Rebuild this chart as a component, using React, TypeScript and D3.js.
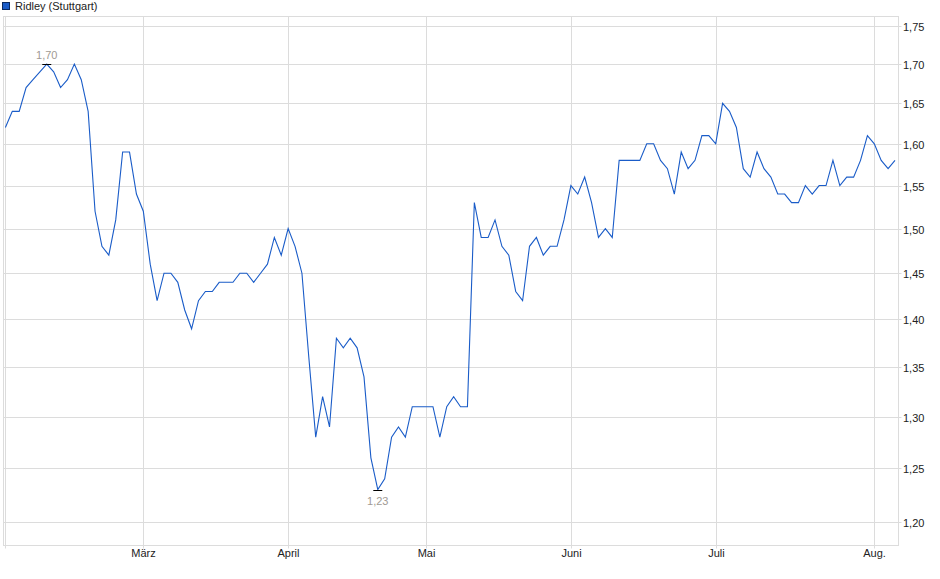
import * as d3 from 'd3';
import { useEffect, useRef } from 'react';

// Daily closing prices, Ridley (Stuttgart), Feb - Aug
const prices: number[] = [
  1.62, 1.64, 1.64, 1.67, 1.68, 1.69, 1.7, 1.69, 1.67, 1.68,
  1.7, 1.68, 1.64, 1.52, 1.48, 1.47, 1.51, 1.59, 1.59, 1.54,
  1.52, 1.46, 1.42, 1.45, 1.45, 1.44, 1.41, 1.39, 1.42, 1.43,
  1.43, 1.44, 1.44, 1.44, 1.45, 1.45, 1.44, 1.45, 1.46, 1.49,
  1.47, 1.5, 1.48, 1.45, 1.36, 1.28, 1.32, 1.29, 1.38, 1.37,
  1.38, 1.37, 1.34, 1.26, 1.23, 1.24, 1.28, 1.29, 1.28, 1.31,
  1.31, 1.31, 1.31, 1.28, 1.31, 1.32, 1.31, 1.31, 1.53, 1.49,
  1.49, 1.51, 1.48, 1.47, 1.43, 1.42, 1.48, 1.49, 1.47, 1.48,
  1.48, 1.51, 1.55, 1.54, 1.56, 1.53, 1.49, 1.5, 1.49, 1.58,
  1.58, 1.58, 1.58, 1.6, 1.6, 1.58, 1.57, 1.54, 1.59, 1.57,
  1.58, 1.61, 1.61, 1.6, 1.65, 1.64, 1.62, 1.57, 1.56, 1.59,
  1.57, 1.56, 1.54, 1.54, 1.53, 1.53, 1.55, 1.54, 1.55, 1.55,
  1.58, 1.55, 1.56, 1.56, 1.58, 1.61, 1.6, 1.58, 1.57, 1.58,
];

// first trading day of each month (index into prices)
const monthIndex: number[] = [0, 20, 41, 61, 82, 103, 126];
const monthLabels: string[] = ['', 'März', 'April', 'Mai', 'Juni', 'Juli', 'Aug.'];

const yTicks: number[] = [1.2, 1.25, 1.3, 1.35, 1.4, 1.45, 1.5, 1.55, 1.6, 1.65, 1.7, 1.75];

const seriesName = 'Ridley (Stuttgart)';

function App() {
  const svgRef = useRef<SVGSVGElement>(null);
  const W = 940;
  const H = 579;

  useEffect(() => {
    if (!svgRef.current) {
      return;
    }
    const svg = d3.select(svgRef.current);
    svg.selectAll('*').remove();

    const font = '"Liberation Sans", Arial, sans-serif';
    const plot = { left: 3.5, right: 898.5, top: 16.5, bottom: 545.5 };

    const x = d3.scaleLinear().domain([0, prices.length - 1]).range([5.4, 895]);
    // log scale, like the original price chart
    const y = d3.scaleLog().domain([1.2, 1.75]).range([522, 26]);
    const snap = (v: number) => Math.round(v) + 0.5;

    // frame
    svg
      .append('rect')
      .attr('x', plot.left)
      .attr('y', plot.top)
      .attr('width', plot.right - plot.left)
      .attr('height', plot.bottom - plot.top)
      .attr('fill', '#fff')
      .attr('stroke', '#dcdcdc');

    // horizontal grid + right axis labels
    const yg = svg.append('g');
    yTicks.forEach((t) => {
      const yy = snap(y(t));
      yg.append('line')
        .attr('x1', plot.left)
        .attr('x2', plot.right + 3)
        .attr('y1', yy)
        .attr('y2', yy)
        .attr('stroke', '#dcdcdc');
      yg.append('text')
        .attr('x', 903)
        .attr('y', yy + 4)
        .style('font-family', font)
        .style('font-size', '11px')
        .attr('fill', '#222')
        .text(d3.format('.2f')(t).replace('.', ','));
    });

    // vertical month grid + labels
    const xg = svg.append('g');
    monthIndex.forEach((idx, i) => {
      const xx = snap(x(idx));
      xg.append('line')
        .attr('x1', xx)
        .attr('x2', xx)
        .attr('y1', plot.top)
        .attr('y2', plot.bottom + 3)
        .attr('stroke', '#dcdcdc');
      xg.append('text')
        .attr('x', xx)
        .attr('y', 557)
        .attr('text-anchor', 'middle')
        .style('font-family', font)
        .style('font-size', '11px')
        .attr('fill', '#222')
        .text(monthLabels[i]);
    });

    // price line
    const line = d3
      .line<number>()
      .x((_, i) => x(i))
      .y((d) => y(d));

    svg
      .append('path')
      .datum(prices)
      .attr('fill', 'none')
      .attr('stroke', '#1a5cc8')
      .attr('stroke-width', 1.1)
      .attr('d', line);

    // high / low markers
    const hi = d3.maxIndex(prices);
    const lo = d3.minIndex(prices);
    const marks = [
      { i: hi, dy: -6 },
      { i: lo, dy: 14 },
    ];
    marks.forEach((m) => {
      const mx = x(m.i);
      const my = snap(y(prices[m.i]));
      svg
        .append('line')
        .attr('x1', mx - 4.5)
        .attr('x2', mx + 4.5)
        .attr('y1', my)
        .attr('y2', my)
        .attr('stroke', '#000');
      svg
        .append('text')
        .attr('x', mx)
        .attr('y', my + m.dy)
        .attr('text-anchor', 'middle')
        .style('font-family', font)
        .style('font-size', '11px')
        .attr('fill', '#a09a94')
        .text(d3.format('.2f')(prices[m.i]).replace('.', ','));
    });

    // legend
    svg
      .append('rect')
      .attr('x', 2.5)
      .attr('y', 2.5)
      .attr('width', 7)
      .attr('height', 7)
      .attr('fill', '#1a5cc8')
      .attr('stroke', '#0a2a60');
    svg
      .append('text')
      .attr('x', 15)
      .attr('y', 10)
      .style('font-family', font)
      .style('font-size', '11px')
      .attr('fill', '#222')
      .text(seriesName);
  }, []);

  return (
    <svg
      ref={svgRef}
      width={W}
      height={H}
      style={{ position: 'absolute', left: 0, top: 0, background: '#fff' }}
    />
  );
}

export default App;
